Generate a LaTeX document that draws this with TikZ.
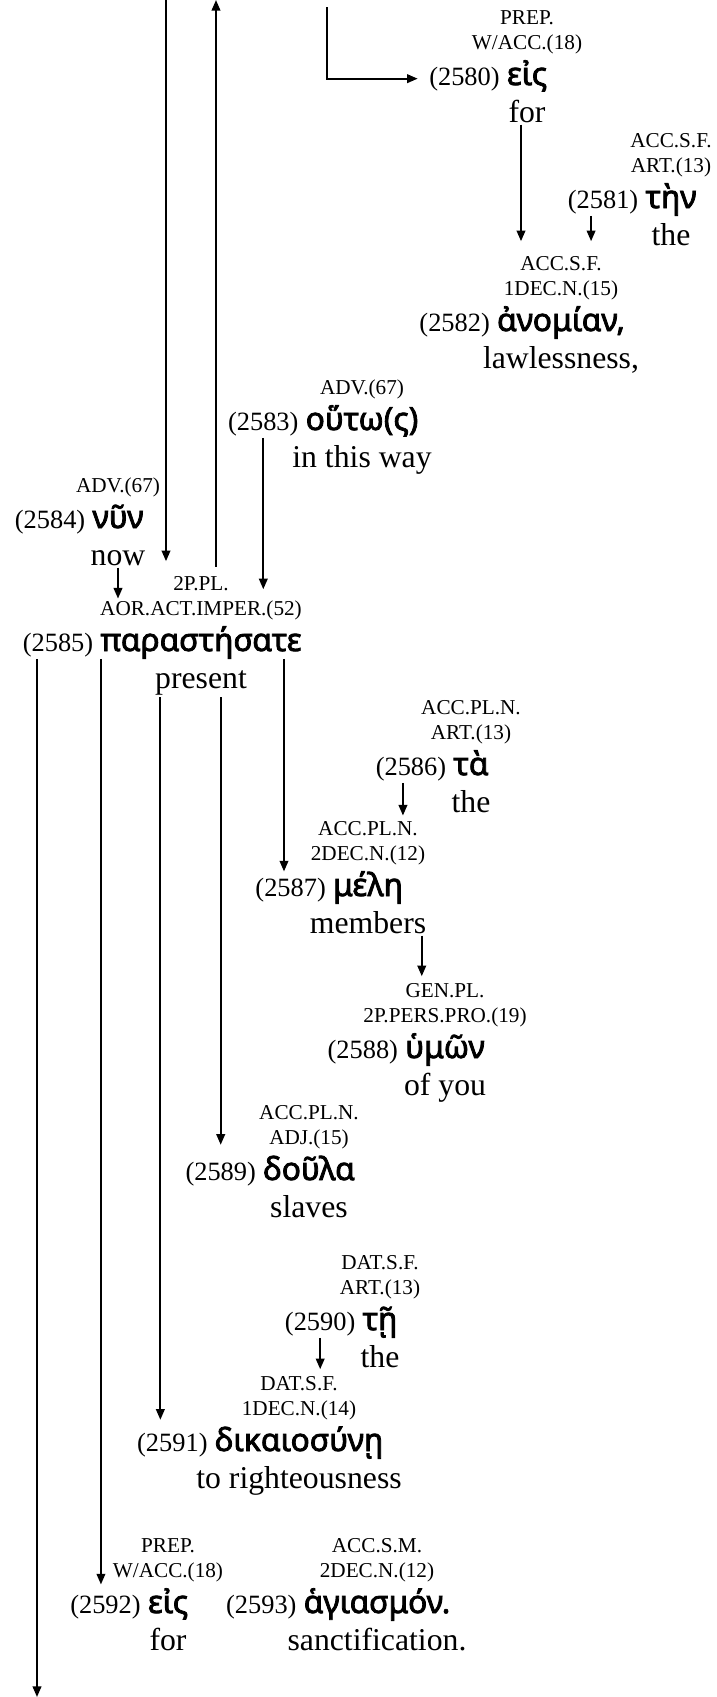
\documentclass[tikz,border=0pt]{standalone}
\usepackage{fontspec}
\setmainfont{Liberation Serif}
\newfontfamily\grkfont{Noto Sans}[FakeBold=2.5]
\usetikzlibrary{positioning,arrows.meta}

\begin{document}
\begin{tikzpicture}[x=0.75pt,y=-0.75pt,
 link/.style={-{Triangle[length=8pt,width=6.5pt]},line width=1.4pt},
 wgreek/.style={font=\grkfont\fontsize{23.8}{28}\selectfont,inner sep=1.5pt,anchor=base},
 wnum/.style={font=\fontsize{19.8}{24}\selectfont,inner sep=1.5pt},
 wparse/.style={font=\fontsize{15.9}{18.75}\selectfont,align=center,inner sep=1.5pt},
 wgloss/.style={font=\fontsize{23.8}{28}\selectfont,inner sep=1.5pt}]

\useasboundingbox (0,0) rectangle (717,1697);

% words: greek, number, parsing, gloss
\node[wgreek] (g80) at (527,85) {εἰς};
\node[wnum,base left=2pt of g80] (n80) {(2580)};
\node[wparse,above=21.3pt of g80.base] (p80) {PREP.\\W/ACC.(18)};
\node[wgloss,below=27.75pt of g80.base,anchor=base] (t80) {for};

\node[wgreek] (g81) at (671,208) {τὴν};
\node[wnum,base left=2pt of g81] (n81) {(2581)};
\node[wparse,above=21.3pt of g81.base] (p81) {ACC.S.F.\\ART.(13)};
\node[wgloss,below=27.75pt of g81.base,anchor=base] (t81) {the};

\node[wgreek] (g82) at (561,331) {ἀνομίαν,};
\node[wnum,base left=2pt of g82] (n82) {(2582)};
\node[wparse,above=21.3pt of g82.base] (p82) {ACC.S.F.\\1DEC.N.(15)};
\node[wgloss,below=27.75pt of g82.base,anchor=base] (t82) {lawlessness,};

\node[wgreek] (g83) at (362,430) {οὕτω(ς)};
\node[wnum,base left=2pt of g83] (n83) {(2583)};
\node[wparse,above=21.3pt of g83.base] (p83) {ADV.(67)};
\node[wgloss,below=27.75pt of g83.base,anchor=base] (t83) {in this way};

\node[wgreek] (g84) at (118,528) {νῦν};
\node[wnum,base left=2pt of g84] (n84) {(2584)};
\node[wparse,above=21.3pt of g84.base] (p84) {ADV.(67)};
\node[wgloss,below=27.75pt of g84.base,anchor=base] (t84) {now};

\node[wgreek] (g85) at (201,651) {παραστήσατε};
\node[wnum,base left=2pt of g85] (n85) {(2585)};
\node[wparse,above=21.3pt of g85.base] (p85) {2P.PL.\\AOR.ACT.IMPER.(52)};
\node[wgloss,below=27.75pt of g85.base,anchor=base] (t85) {present};

\node[wgreek] (g86) at (471,775) {τὰ};
\node[wnum,base left=2pt of g86] (n86) {(2586)};
\node[wparse,above=21.3pt of g86.base] (p86) {ACC.PL.N.\\ART.(13)};
\node[wgloss,below=27.75pt of g86.base,anchor=base] (t86) {the};

\node[wgreek] (g87) at (368,896) {μέλη};
\node[wnum,base left=2pt of g87] (n87) {(2587)};
\node[wparse,above=21.3pt of g87.base] (p87) {ACC.PL.N.\\2DEC.N.(12)};
\node[wgloss,below=27.75pt of g87.base,anchor=base] (t87) {members};

\node[wgreek] (g88) at (445,1058) {ὑμῶν};
\node[wnum,base left=2pt of g88] (n88) {(2588)};
\node[wparse,above=21.3pt of g88.base] (p88) {GEN.PL.\\2P.PERS.PRO.(19)};
\node[wgloss,below=27.75pt of g88.base,anchor=base] (t88) {of you};

\node[wgreek] (g89) at (309,1180) {δοῦλα};
\node[wnum,base left=2pt of g89] (n89) {(2589)};
\node[wparse,above=21.3pt of g89.base] (p89) {ACC.PL.N.\\ADJ.(15)};
\node[wgloss,below=27.75pt of g89.base,anchor=base] (t89) {slaves};

\node[wgreek] (g90) at (380,1330) {τῇ};
\node[wnum,base left=2pt of g90] (n90) {(2590)};
\node[wparse,above=21.3pt of g90.base] (p90) {DAT.S.F.\\ART.(13)};
\node[wgloss,below=27.75pt of g90.base,anchor=base] (t90) {the};

\node[wgreek] (g91) at (299,1451) {δικαιοσύνῃ};
\node[wnum,base left=2pt of g91] (n91) {(2591)};
\node[wparse,above=21.3pt of g91.base] (p91) {DAT.S.F.\\1DEC.N.(14)};
\node[wgloss,below=27.75pt of g91.base,anchor=base] (t91) {to righteousness};

\node[wgreek] (g92) at (168,1613) {εἰς};
\node[wnum,base left=2pt of g92] (n92) {(2592)};
\node[wparse,above=21.3pt of g92.base] (p92) {PREP.\\W/ACC.(18)};
\node[wgloss,below=27.75pt of g92.base,anchor=base] (t92) {for};

\node[wgreek] (g93) at (377,1613) {ἁγιασμόν.};
\node[wnum,base left=2pt of g93] (n93) {(2593)};
\node[wparse,above=21.3pt of g93.base] (p93) {ACC.S.M.\\2DEC.N.(12)};
\node[wgloss,below=27.75pt of g93.base,anchor=base] (t93) {sanctification.};

% loose ends at the page border
\coordinate (inA) at (166,0);
\coordinate (outB) at (216,0);
\coordinate (inC) at (327,7);
\coordinate (outD) at (37,1697);

\draw[link,shorten >=10pt] (inA) -- (inA |- p85.north);
\draw[link,shorten <=6pt] (outB |- p85.north) -- (outB);
\draw[link,shorten >=7pt] (inC) |- (n80);
\draw[link,shorten >=10pt] ([xshift=-4.5pt]t80.south) -- ([xshift=-4.5pt]t80.south |- p82.north);
\draw[link,shorten >=10pt] ([xshift=-9pt]n81.south) -- ([xshift=-9pt]n81.south |- p82.north);
\draw[link,shorten >=7pt] (n83.south) -- (n83.south |- p85.center);
\draw[link] (t84.south) -- (t84.south |- p85.center);

\draw[link] (outD |- n85.south) -- (outD);
\draw[link,shorten >=6pt] ([xshift=-3.4pt]n92.north |- n85.south) -- ([xshift=-3.4pt]n92.north);
\draw[link,shorten >=3pt] ([xshift=-5pt]n87.north |- n85.south) -- ([xshift=-5pt]n87.north);
\draw[link,shorten >=8pt] ([xshift=-9pt]n91.north |- t85.south) -- ([xshift=-9pt]n91.north);
\draw[link,shorten >=11pt] (n89.north |- t85.south) -- (n89.north);

\draw[link,shorten >=3pt] ([xshift=-6pt]n86.south) -- ([xshift=-6pt]n86.south |- p87.north);
\draw[link,shorten >=4pt] ([xshift=-5pt]t87.south east) -- ([xshift=-5pt]t87.south east |- p88.north);
\draw[link,shorten >=4pt] (n90.south) -- (n90.south |- p91.north);
\end{tikzpicture}
\end{document}
